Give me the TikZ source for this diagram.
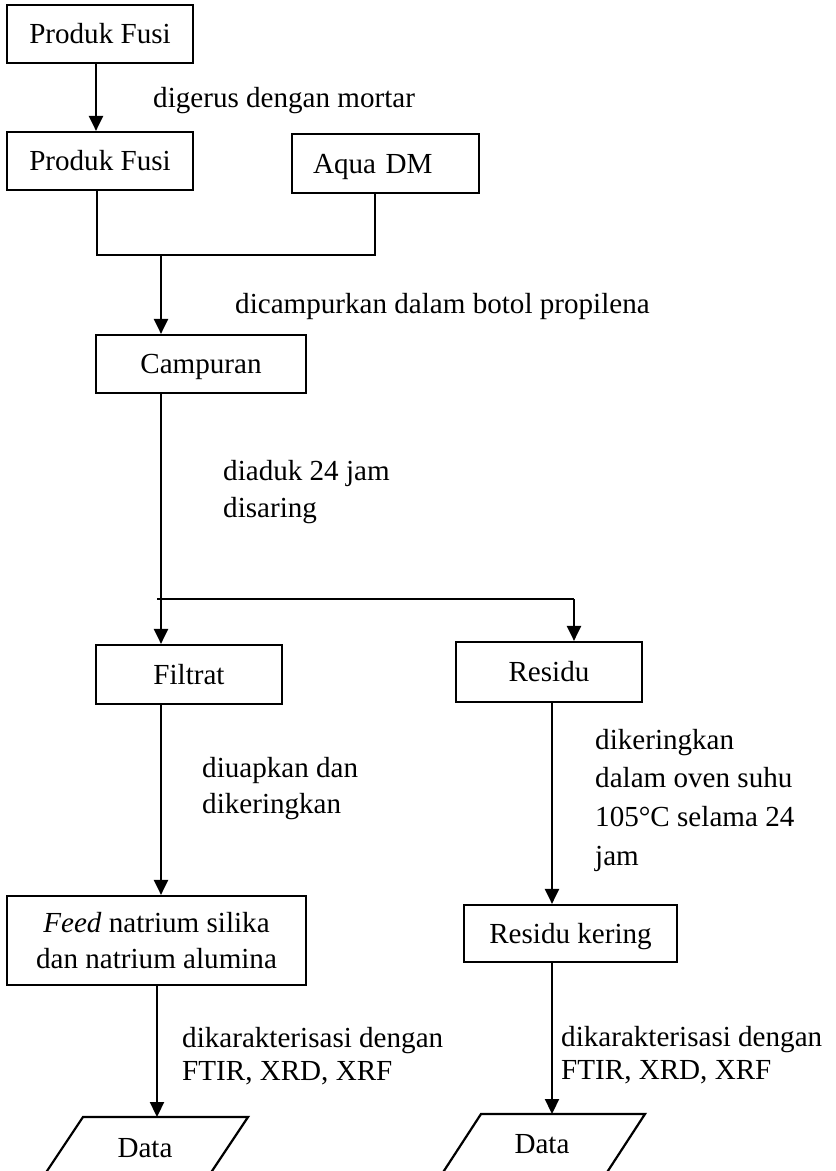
\documentclass[tikz,border=0pt]{standalone}
\usepackage{fontspec}
\setmainfont{Liberation Serif}
\usetikzlibrary{arrows.meta}
\begin{document}
\begin{tikzpicture}[x=1pt,y=-1pt,
  font=\fontsize{29.1}{38}\selectfont,
  box/.style={draw,line width=2.2pt,inner sep=0pt,text height=19.2pt,text depth=0pt},
  bigbox/.style={draw,line width=2.2pt,inner sep=0pt,align=center,font=\fontsize{29.1}{36}\selectfont},
  thinline/.style={line width=1.4pt},
  flow/.style={line width=2.2pt,-{Triangle[width=14pt,length=15pt]}},
  lbl/.style={anchor=base west,inner sep=0pt},
  datatext/.style={anchor=base,inner sep=0pt}]
\clip (0,0) rectangle (836,1171);
\fill[white] (0,0) rectangle (836,1171);
% boxes
\node[box,minimum width=186pt,minimum height=58pt] (pf1) at (100,34) {Produk Fusi};
\node[box,minimum width=186pt,minimum height=58pt] (pf2) at (100,161) {Produk Fusi};
\node[box,minimum height=59pt,text width=145pt,inner xsep=21pt,align=left] (aqua) at (385.5,163.5) {Aqua DM};
\node[box,minimum width=210pt,minimum height=58pt] (camp) at (201,364) {Campuran};
\node[box,minimum width=186pt,minimum height=59pt] (filt) at (189,674.5) {Filtrat};
\node[box,minimum width=186pt,minimum height=60pt] (res) at (549,672) {Residu};
\node[bigbox,minimum width=299pt,minimum height=89pt] (feed) at (156.5,940.5) {\textit{Feed} natrium silika\\dan natrium alumina};
\node[box,minimum width=213pt,minimum height=57pt] (resk) at (570.5,933.5) {Residu kering};
% data parallelograms
\draw[line width=2.2pt] (83,1117) -- (248,1117) -- (206,1180) -- (41,1180) -- cycle;
\draw[line width=2.2pt] (481,1114) -- (645,1114) -- (602,1180) -- (438,1180) -- cycle;
\node[datatext] (dataL) at (145,1157) {Data};
\node[datatext] (dataR) at (542,1153) {Data};
\coordinate (dlT) at (157,1117);
\coordinate (drT) at (552,1114);
% connectors
\draw[flow] ([xshift=-4pt]pf1.south) -- ([xshift=-4pt]pf2.north);
\coordinate (mL) at (97,255);
\coordinate (mR) at (375,255);
\coordinate (mC) at (161,255);
\draw[thinline] (pf2.south -| mL) -- (mL) -- (mR) -- (aqua.south -| mR);
\draw[flow] (mC) -- (camp.north -| mC);
\coordinate (sp) at (161,599);
\draw[flow] (camp.south -| sp) -- (filt.north -| sp);
\coordinate (spL) at (157,599);
\coordinate (spR) at (574,599);
\draw[thinline] (spL) -- (spR);
\draw[flow] (spR) -- (res.north -| spR);
\coordinate (fx) at (161,800);
\draw[flow] (filt.south -| fx) -- (feed.north -| fx);
\coordinate (rx) at (552,800);
\draw[flow] (res.south -| rx) -- (resk.north -| rx);
\draw[flow] (feed.south -| dlT) -- (dlT);
\draw[flow] (resk.south -| drT) -- (drT);
% labels
\node[lbl] (t1) at (153,107) {digerus dengan mortar};
\node[lbl] (t2) at (235,313) {dicampurkan dalam botol propilena};
\node[lbl] (t3a) at (223,480) {diaduk 24 jam};
\node[lbl] (t3b) at (223,517) {disaring};
\node[lbl] (t4a) at (202,777) {diuapkan dan};
\node[lbl] (t4b) at (202,813) {dikeringkan};
\node[lbl] (t5a) at (595,749) {dikeringkan};
\node[lbl] (t5b) at (595,787) {dalam oven suhu};
\node[lbl] (t5c) at (595,826) {105°C selama 24};
\node[lbl] (t5d) at (595,865) {jam};
\node[lbl] (t6a) at (182,1047) {dikarakterisasi dengan};
\node[lbl] (t6b) at (182,1080) {FTIR, XRD, XRF};
\node[lbl] (t7a) at (561,1046) {dikarakterisasi dengan};
\node[lbl] (t7b) at (561,1079) {FTIR, XRD, XRF};
\end{tikzpicture}
\end{document}
